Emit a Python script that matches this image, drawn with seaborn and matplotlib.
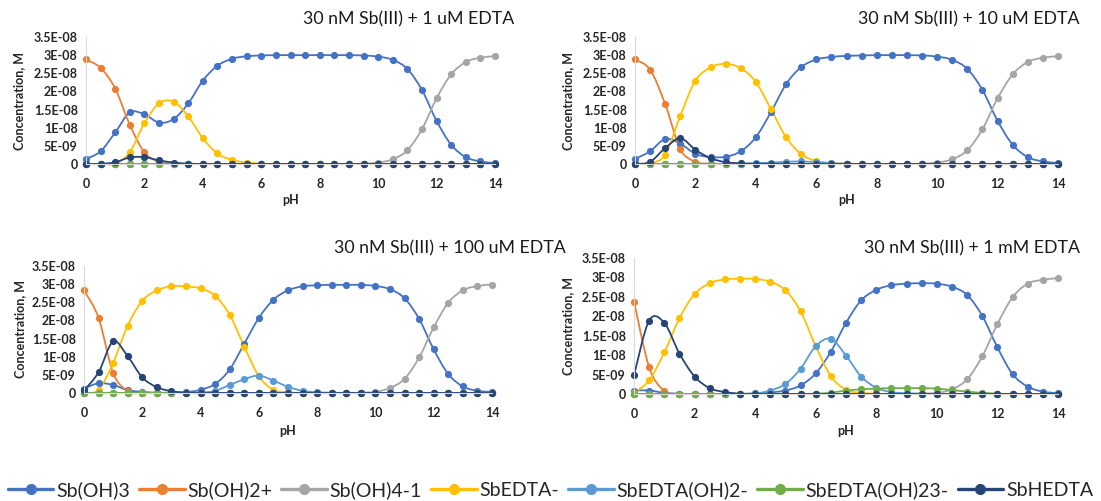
import numpy as np
import pandas as pd
import matplotlib
matplotlib.use('Agg')
import matplotlib.pyplot as plt
from matplotlib.lines import Line2D
from matplotlib.path import Path
from matplotlib.patches import PathPatch
from matplotlib.ticker import FuncFormatter
import seaborn as sns

# pH grid of the speciation runs
ph = np.arange(0, 14.01, 0.5)

species = ['Sb(OH)3', 'Sb(OH)2+', 'Sb(OH)4-1', 'SbEDTA-', 'SbEDTA(OH)2-', 'SbEDTA(OH)23-', 'SbHEDTA']
colors = ['#4472C4', '#ED7D31', '#A5A5A5', '#FFC000', '#5B9BD5', '#70AD47', '#264478']

# concentrations in nM, one value per pH step
# --- 30 nM Sb(III) + 1 uM EDTA
sb3_1 = [1.4, 3.5, 8.7, 14.2, 13.7, 11.4, 12.4, 16.7, 23.0, 27.1, 29.0, 29.7, 29.9, 30.0, 30.0, 30.0, 30.0, 30.0, 30.0, 29.9, 29.6, 28.7, 26.2, 20.4, 11.9, 5.3, 1.9, 0.7, 0.3]
sb2p_1 = [28.8, 26.5, 20.8, 10.8, 3.2, 0.6, 0.1, 0, 0, 0, 0, 0, 0, 0, 0, 0, 0, 0, 0, 0, 0, 0, 0, 0, 0, 0, 0, 0, 0]
sb4_1 = [0, 0, 0, 0, 0, 0, 0, 0, 0, 0, 0, 0, 0, 0, 0, 0, 0, 0, 0, 0.1, 0.4, 1.3, 3.8, 9.6, 18.1, 24.7, 28.1, 29.3, 29.7]
edta_1 = [0, 0, 0.1, 3.2, 11.3, 16.7, 17.2, 13.1, 7.1, 2.9, 1.1, 0.4, 0.1, 0, 0, 0, 0, 0, 0, 0, 0, 0, 0, 0, 0, 0, 0, 0, 0]
edtaoh_1 = [0, 0, 0, 0, 0, 0, 0, 0, 0, 0, 0, 0, 0, 0, 0, 0, 0, 0, 0, 0, 0, 0, 0, 0, 0, 0, 0, 0, 0]
edtaoh2_1 = [0, 0, 0, 0, 0, 0, 0, 0, 0, 0, 0, 0, 0, 0, 0, 0, 0, 0, 0, 0, 0, 0, 0, 0, 0, 0, 0, 0, 0]
hedta_1 = [0, 0, 0.5, 1.8, 1.9, 1.0, 0.4, 0.1, 0, 0, 0, 0, 0, 0, 0, 0, 0, 0, 0, 0, 0, 0, 0, 0, 0, 0, 0, 0, 0]

# --- 30 nM Sb(III) + 10 uM EDTA
sb3_2 = [1.4, 3.5, 6.9, 5.6, 2.8, 1.9, 2.0, 3.5, 7.4, 14.3, 22.0, 26.7, 28.8, 29.5, 29.8, 29.9, 30.0, 30.0, 30.0, 29.9, 29.6, 28.7, 26.2, 20.4, 11.9, 5.3, 1.9, 0.7, 0.3]
sb2p_2 = [28.8, 26.0, 16.5, 4.1, 0.6, 0.1, 0, 0, 0, 0, 0, 0, 0, 0, 0, 0, 0, 0, 0, 0, 0, 0, 0, 0, 0, 0, 0, 0, 0]
sb4_2 = [0, 0, 0, 0, 0, 0, 0, 0, 0, 0, 0, 0, 0, 0, 0, 0, 0, 0, 0, 0.1, 0.4, 1.3, 3.8, 9.6, 18.1, 24.7, 28.1, 29.3, 29.7]
edta_2 = [0, 0.2, 2.6, 13.3, 23.0, 26.6, 27.6, 26.4, 22.6, 15.1, 7.4, 2.7, 0.8, 0.3, 0.1, 0, 0, 0, 0, 0, 0, 0, 0, 0, 0, 0, 0, 0, 0]
edtaoh_2 = [0, 0, 0, 0, 0, 0, 0, 0, 0.2, 0.4, 0.6, 0.7, 0.5, 0.2, 0.1, 0, 0, 0, 0, 0, 0, 0, 0, 0, 0, 0, 0, 0, 0]
edtaoh2_2 = [0, 0, 0, 0, 0, 0, 0, 0, 0, 0, 0, 0, 0, 0, 0, 0, 0, 0, 0, 0, 0, 0, 0, 0, 0, 0, 0, 0, 0]
hedta_2 = [0, 0.6, 4.4, 7.1, 3.9, 1.6, 0.5, 0.2, 0.1, 0, 0, 0, 0, 0, 0, 0, 0, 0, 0, 0, 0, 0, 0, 0, 0, 0, 0, 0, 0]

# --- 30 nM Sb(III) + 100 uM EDTA
sb3_3 = [1.2, 2.7, 2.2, 0.8, 0.3, 0.1, 0.1, 0.2, 0.9, 2.5, 6.5, 13.6, 20.7, 25.7, 28.3, 29.4, 29.7, 29.8, 29.8, 29.8, 29.5, 28.6, 26.1, 20.4, 12.0, 5.2, 1.8, 0.6, 0.3]
sb2p_3 = [28.3, 20.7, 5.5, 0.6, 0.1, 0, 0, 0, 0, 0, 0, 0, 0, 0, 0, 0, 0, 0, 0, 0, 0, 0, 0, 0, 0, 0, 0, 0, 0]
sb4_3 = [0, 0, 0, 0, 0, 0, 0, 0, 0, 0, 0, 0, 0, 0, 0, 0, 0, 0, 0, 0.1, 0.3, 1.4, 3.9, 9.8, 18.1, 24.9, 28.3, 29.5, 29.9]
edta_3 = [0, 0.9, 8.3, 18.6, 25.4, 28.3, 29.4, 29.4, 28.8, 26.8, 21.5, 12.8, 4.6, 0.9, 0.2, 0, 0, 0, 0, 0, 0, 0, 0, 0, 0, 0, 0, 0, 0]
edtaoh_3 = [0, 0, 0, 0, 0, 0, 0, 0, 0.1, 0.6, 2.2, 3.8, 4.8, 3.4, 1.7, 0.6, 0.2, 0.1, 0, 0, 0, 0, 0, 0, 0, 0, 0, 0, 0]
edtaoh2_3 = [0, 0, 0, 0, 0, 0, 0, 0, 0, 0, 0, 0, 0, 0, 0, 0, 0, 0, 0, 0, 0, 0, 0, 0, 0, 0, 0, 0, 0]
hedta_3 = [0.7, 5.7, 14.2, 10.1, 4.3, 1.6, 0.5, 0.1, 0, 0, 0, 0, 0, 0, 0, 0, 0, 0, 0, 0, 0, 0, 0, 0, 0, 0, 0, 0, 0]

# --- 30 nM Sb(III) + 1 mM EDTA
sb3_4 = [0.9, 0.9, 0.3, 0.1, 0, 0, 0, 0, 0.2, 0.4, 0.9, 2.2, 5.3, 10.9, 18.3, 24.1, 26.8, 28.0, 28.4, 28.5, 28.4, 27.6, 25.5, 20.1, 12.0, 5.1, 1.9, 0.6, 0.2]
sb2p_4 = [23.8, 6.9, 0.8, 0, 0, 0, 0, 0, 0, 0, 0, 0, 0, 0, 0, 0, 0, 0, 0, 0, 0, 0, 0, 0, 0, 0, 0, 0, 0]
sb4_4 = [0, 0, 0, 0, 0, 0, 0, 0, 0, 0, 0, 0, 0, 0, 0, 0, 0, 0, 0, 0.1, 0.3, 1.2, 3.8, 9.7, 18.0, 24.9, 28.4, 29.4, 29.8]
edta_4 = [0.3, 3.5, 10.7, 19.5, 25.7, 28.5, 29.5, 29.7, 29.6, 28.9, 26.7, 21.3, 12.3, 4.6, 1.1, 0.3, 0.1, 0, 0, 0, 0, 0, 0, 0, 0, 0, 0, 0, 0]
edtaoh_4 = [0, 0, 0, 0, 0, 0, 0, 0, 0.1, 0.9, 2.6, 6.5, 12.3, 14.2, 9.9, 4.5, 1.6, 0.5, 0.2, 0.1, 0, 0, 0, 0, 0, 0, 0, 0, 0]
edtaoh2_4 = [0, 0, 0, 0, 0, 0, 0, 0, 0, 0, 0, 0, 0.1, 0.3, 0.9, 1.2, 1.4, 1.5, 1.5, 1.5, 1.4, 1.0, 0.6, 0.3, 0.1, 0, 0, 0, 0]
hedta_4 = [4.8, 18.9, 18.3, 10.4, 4.5, 1.5, 0.5, 0.1, 0, 0, 0, 0, 0, 0, 0, 0, 0, 0, 0, 0, 0, 0, 0, 0, 0, 0, 0, 0, 0]

titles = ['30 nM Sb(III) + 1 uM EDTA', '30 nM Sb(III) + 10 uM EDTA',
          '30 nM Sb(III) + 100 uM EDTA', '30 nM Sb(III) + 1 mM EDTA']
panels = [
    [sb3_1, sb2p_1, sb4_1, edta_1, edtaoh_1, edtaoh2_1, hedta_1],
    [sb3_2, sb2p_2, sb4_2, edta_2, edtaoh_2, edtaoh2_2, hedta_2],
    [sb3_3, sb2p_3, sb4_3, edta_3, edtaoh_3, edtaoh2_3, hedta_3],
    [sb3_4, sb2p_4, sb4_4, edta_4, edtaoh_4, edtaoh2_4, hedta_4],
]

sns.set_theme(style='white')
plt.rcParams['font.family'] = ['Lato', 'DejaVu Sans']

W, H = 1101, 501
fig = plt.figure(figsize=(W / 100, H / 100), dpi=100)

# axes boxes in pixels: left, right, top, bottom ; title right edge / centre y ; ylabel right x ; xlabel top y
boxes = [
    (86, 495, 37, 164, 514, 19, 25, 194),
    (635, 1058, 37, 164, 1080, 19, 574, 194),
    (84, 492, 266, 393, 566, 248, 26, 425),
    (634, 1058, 258, 394, 1080, 248, 574, 425),
]


def efmt(v, pos):
    if abs(v) < 1e-15:
        return '0'
    m, e = f'{v:.1E}'.split('E')
    m = m.rstrip('0').rstrip('.')
    return f'{m}E{e}'


def smooth_lines(ax):
    # Excel-style smoothed lines: Bezier through the points, markers kept as drawn
    for line in list(ax.lines):
        x, y = (np.asarray(a, float) for a in line.get_data())
        if len(x) < 3:
            continue
        px = np.concatenate([[x[0]], x, [x[-1]]])
        py = np.concatenate([[y[0]], y, [y[-1]]])
        verts = [(x[0], y[0])]
        codes = [Path.MOVETO]
        for i in range(len(x) - 1):
            j = i + 1
            c1 = (px[j] + (px[j + 1] - px[j - 1]) / 6, py[j] + (py[j + 1] - py[j - 1]) / 6)
            c2 = (px[j + 1] - (px[j + 2] - px[j]) / 6, py[j + 1] - (py[j + 2] - py[j]) / 6)
            verts += [c1, c2, (x[i + 1], y[i + 1])]
            codes += [Path.CURVE4] * 3
        patch = PathPatch(Path(verts, codes), facecolor='none', edgecolor=line.get_color(),
                          lw=line.get_linewidth(), zorder=line.get_zorder(), clip_on=False,
                          capstyle='round', joinstyle='round')
        ax.add_patch(patch)
        line.set_linestyle('none')
        line.set_zorder(line.get_zorder() + 0.01)


txt = '#262626'
for table, title, (l, r, t, b, tx, ty, ylx, xly) in zip(panels, titles, boxes):
    ax = fig.add_axes([l / W, 1 - b / H, (r - l) / W, (b - t) / H])
    df = pd.DataFrame({name: np.array(vals) * 1e-9 for name, vals in zip(species, table)})
    df['pH'] = ph
    long = df.melt(id_vars='pH', var_name='species', value_name='conc')
    sns.lineplot(data=long, x='pH', y='conc', hue='species', hue_order=species,
                 palette=colors, marker='o', markersize=5.2, markeredgewidth=0,
                 linewidth=1.3, legend=False, ax=ax, clip_on=False)
    smooth_lines(ax)
    ax.set_xlim(0, 14)
    ax.set_ylim(0, 3.5e-8)
    ax.set_xticks(range(0, 15, 2))
    ax.set_yticks([i * 5e-9 for i in range(8)])
    ax.yaxis.set_major_formatter(FuncFormatter(efmt))
    ax.tick_params(length=0, labelsize=9, labelcolor=txt)
    ax.tick_params(axis='x', pad=10)
    ax.tick_params(axis='y', pad=6)
    for lab in ax.get_xticklabels() + ax.get_yticklabels():
        lab.set_fontweight('bold')
    for s in ['top', 'right']:
        ax.spines[s].set_visible(False)
    for s in ['left', 'bottom']:
        ax.spines[s].set_color('#D9D9D9')
        ax.spines[s].set_linewidth(0.8)
    ax.set_xlabel('pH', fontsize=9, fontweight='bold', color=txt)
    ax.set_ylabel('Concentration, M', fontsize=9, fontweight='bold', color=txt)
    ax.xaxis.set_label_coords(0.5, -(xly - b) / (b - t))
    ax.yaxis.set_label_coords(-(l - ylx) / (r - l), 0.5)
    fig.text(tx / W, 1 - ty / H, title, ha='right', va='center', fontsize=12.8, color='#1a1a1a')

handles = [Line2D([], [], color=c, marker='o', markersize=7, linewidth=2.4) for c in colors]
fig.legend(handles, species, loc='center', ncol=7, bbox_to_anchor=(0.5, 1 - 490 / H),
           frameon=False, fontsize=14, handlelength=2.35, handletextpad=0.15,
           columnspacing=0.45, borderpad=0, borderaxespad=0, labelcolor=txt)

fig.savefig('out.png', dpi=100)
